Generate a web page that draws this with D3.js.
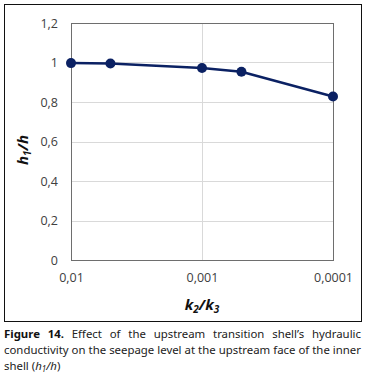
<!DOCTYPE html>
<html lang="en">
<head>
<meta charset="UTF-8">
<title>Figure 14</title>
<style>
    body, html {
        margin: 0;
        padding: 0;
        background: #fff;
        overflow: hidden;
    }
    svg text { font-family: 'Open Sans', 'Noto Sans', sans-serif; }
</style>
</head>
<body>
<svg id="chart" width="368" height="385"></svg>
<script src="https://d3js.org/d3.v7.min.js"></script>
<script>
    // data
    const ratios = [0.01, 0.005, 0.001, 0.0005, 0.0001];   // k2/k3
    const levels = [0.997, 0.995, 0.972, 0.953, 0.828];    // h1/h
    const xTicks = [0.01, 0.001, 0.0001];
    const xTickLabels = ["0,01", "0,001", "0,0001"];
    const yTicks = [0, 0.2, 0.4, 0.6, 0.8, 1, 1.2];
    const yTickLabels = ["0", "0,2", "0,4", "0,6", "0,8", "1", "1,2"];
    const captionLines = [
        [["Figure 14.", true], [" Effect of the upstream transition shell\u2019s hydraulic", false]],
        [["conductivity on the seepage level at the upstream face of the inner", false]]
    ];

    const svg = d3.select("#chart");
    const plot = {left: 71, right: 333, top: 23, bottom: 260};

    const x = d3.scaleLog().domain([0.01, 0.0001]).range([plot.left, plot.right]);
    const y = d3.scaleLinear().domain([0, 1.2]).range([plot.bottom, plot.top]);

    // outer chart frame
    svg.append("rect")
        .attr("x", 4.5).attr("y", 4.5)
        .attr("width", 357).attr("height", 317)
        .attr("fill", "none").attr("stroke", "#111").attr("stroke-width", 1);

    // gridlines
    svg.append("g")
        .selectAll("line")
        .data(yTicks.filter(d => d > 0 && d < 1.2))
        .enter().append("line")
        .attr("x1", plot.left).attr("x2", plot.right)
        .attr("y1", d => Math.round(y(d)) + 0.5).attr("y2", d => Math.round(y(d)) + 0.5)
        .attr("stroke", "#d9d9d9");

    svg.append("g")
        .selectAll("line")
        .data(xTicks.slice(1, -1))
        .enter().append("line")
        .attr("x1", d => Math.round(x(d)) + 0.5).attr("x2", d => Math.round(x(d)) + 0.5)
        .attr("y1", plot.top).attr("y2", plot.bottom)
        .attr("stroke", "#d9d9d9");

    // plot area border
    svg.append("rect")
        .attr("x", plot.left + 0.5).attr("y", plot.top + 0.5)
        .attr("width", plot.right - plot.left).attr("height", plot.bottom - plot.top)
        .attr("fill", "none").attr("stroke", "#6e6e6e").attr("stroke-width", 1);

    // y axis labels
    const yAxis = svg.append("g")
        .attr("transform", `translate(${plot.left},0)`)
        .call(d3.axisLeft(y).tickValues(yTicks).tickSize(0).tickPadding(13)
            .tickFormat((d, i) => yTickLabels[i]));
    yAxis.select(".domain").remove();
    yAxis.selectAll("text").attr("font-size", 12.5).attr("fill", "#404040")
        .style("font-family", "'Open Sans', sans-serif");

    // x axis labels
    const xAxis = svg.append("g")
        .attr("transform", `translate(0,${plot.bottom})`)
        .call(d3.axisBottom(x).tickValues(xTicks).tickSize(0).tickPadding(13)
            .tickFormat((d, i) => xTickLabels[i]));
    xAxis.select(".domain").remove();
    xAxis.selectAll("text").attr("font-size", 12.5).attr("fill", "#404040")
        .style("font-family", "'Open Sans', sans-serif");

    // axis titles
    const xt = svg.append("text")
        .attr("x", (plot.left + plot.right) / 2).attr("y", 310)
        .attr("text-anchor", "middle")
        .attr("font-size", 15).attr("font-weight", "bold").attr("font-style", "italic")
        .attr("fill", "#111");
    xt.append("tspan").text("k");
    xt.append("tspan").attr("font-size", 10).attr("dy", 3).text("2");
    xt.append("tspan").attr("dy", -3).text("/k");
    xt.append("tspan").attr("font-size", 10).attr("dy", 3).text("3");

    const yt = svg.append("text")
        .attr("transform", "translate(28,150) rotate(-90)")
        .attr("text-anchor", "middle")
        .attr("font-size", 15).attr("font-weight", "bold").attr("font-style", "italic")
        .attr("fill", "#111");
    yt.append("tspan").text("h");
    yt.append("tspan").attr("font-size", 10).attr("dy", 3).text("1");
    yt.append("tspan").attr("dy", -3).text("/h");

    // series
    const line = d3.line()
        .x((d, i) => x(ratios[i]))
        .y(d => y(d));

    svg.append("path")
        .datum(levels)
        .attr("d", line)
        .attr("fill", "none")
        .attr("stroke", "#0b2163")
        .attr("stroke-width", 2.5)
        .attr("stroke-linejoin", "round");

    svg.append("g")
        .selectAll("circle")
        .data(levels)
        .enter().append("circle")
        .attr("cx", (d, i) => x(ratios[i]))
        .attr("cy", d => y(d))
        .attr("r", 5)
        .attr("fill", "#0b2163");

    // caption, justified between the frame edges
    const capLeft = 4, capRight = 361;
    const capFont = 11.4;
    captionLines.forEach((parts, li) => {
        const t = svg.append("text")
            .attr("x", capLeft).attr("y", 338 + li * 16)
            .attr("font-size", capFont).attr("fill", "#222")
            .style("font-family", "'Noto Sans', sans-serif");
        parts.forEach(([txt, bold]) => {
            t.append("tspan").attr("font-weight", bold ? "bold" : "normal")
                .attr("fill", bold ? "#111" : "#222")
                .text(txt);
        });
        const full = parts.map(p => p[0]).join("");
        const spaces = (full.match(/ /g) || []).length;
        const natural = t.node().getComputedTextLength();
        const extra = Math.max(0, (capRight - capLeft - natural) / spaces);
        t.attr("word-spacing", extra);
    });
    const last = svg.append("text")
        .attr("x", capLeft).attr("y", 370)
        .attr("font-size", capFont).attr("fill", "#222")
        .style("font-family", "'Noto Sans', sans-serif");
    last.append("tspan").text("shell (");
    last.append("tspan").attr("font-style", "italic").text("h");
    last.append("tspan").attr("font-style", "italic").attr("font-size", 8).attr("dy", 2).text("1");
    last.append("tspan").attr("font-style", "italic").attr("dy", -2).text("/h");
    last.append("tspan").text(")");
</script>
</body>
</html>
